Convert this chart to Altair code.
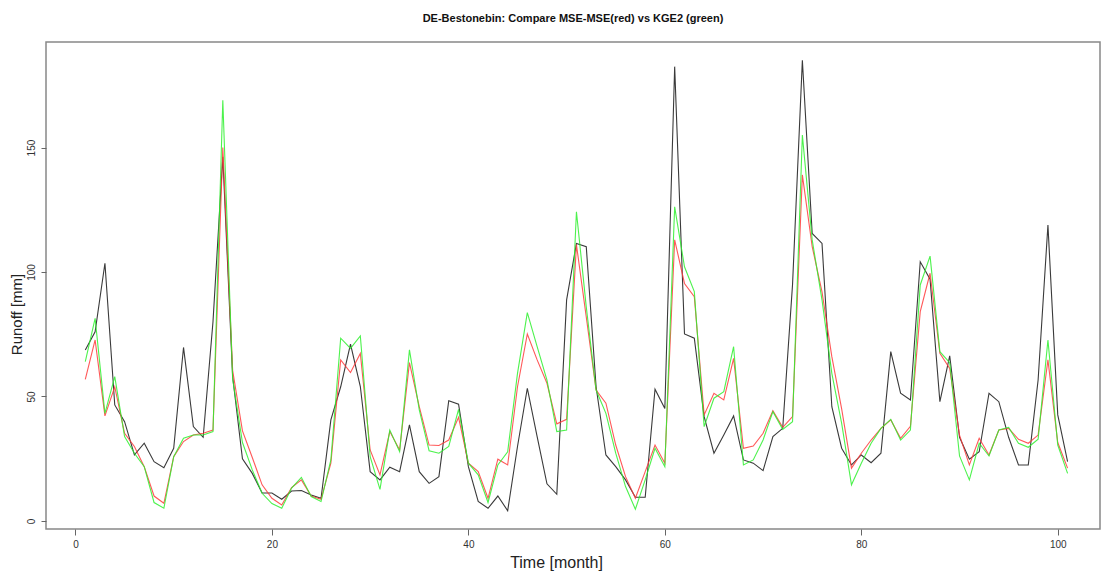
import altair as alt
import pandas as pd

months = list(range(1, 102))

observed = [68.7, 76.0, 103.5, 46.6, 39.9, 26.5, 31.2, 23.8, 21.4, 29.2,
            69.7, 37.9, 33.6, 80.0, 146.3, 58.0, 25.0, 19.1, 11.2, 11.2,
            8.7, 12.0, 12.2, 10.4, 9.1, 40.6, 53.9, 71.0, 54.0, 19.8,
            16.5, 21.6, 19.8, 38.6, 19.8, 15.1, 17.8, 48.3, 46.9, 21.8,
            7.8, 5.1, 10.0, 4.1, 29.9, 53.3, 33.9, 14.9, 10.7, 88.8,
            111.5, 110.2, 53.9, 26.5, 21.8, 16.5, 9.5, 9.5, 52.9, 45.2,
            182.5, 75.1, 73.4, 41.9, 27.2, 34.5, 42.2, 24.5, 23.2, 20.2,
            33.9, 37.2, 95.0, 185.1, 115.5, 111.5, 45.9, 29.2, 22.5, 26.5,
            23.4, 27.2, 68.0, 51.3, 48.6, 104.1, 97.1, 47.9, 66.3, 33.6,
            24.8, 27.8, 51.3, 47.9, 33.6, 22.5, 22.5, 56.6, 118.9, 42.6,
            23.8]

mse_red = [56.9, 72.7, 42.2, 53.9, 35.2, 29.9, 21.8, 10.0, 7.1, 25.8,
           31.9, 34.5, 35.2, 36.5, 150.0, 60.5, 36.2, 25.5, 14.5, 9.1,
           6.4, 13.4, 16.5, 10.0, 8.7, 23.2, 64.7, 59.6, 67.3, 28.5,
           18.5, 35.9, 28.5, 63.6, 45.9, 30.5, 30.3, 32.5, 41.6, 23.2,
           19.8, 9.1, 24.8, 22.5, 53.9, 75.1, 64.7, 55.3, 39.0, 40.8,
           111.0, 82.0, 52.6, 47.3, 30.5, 17.8, 9.1, 19.8, 30.5, 23.2,
           112.9, 95.4, 90.1, 42.6, 51.3, 48.6, 65.3, 29.2, 30.1, 35.2,
           44.3, 37.6, 41.9, 139.0, 110.2, 92.0, 66.0, 45.0, 21.2, 27.2,
           32.5, 37.2, 40.6, 33.2, 38.0, 84.1, 99.5, 67.3, 61.3, 34.5,
           22.5, 33.2, 26.5, 36.5, 37.2, 32.8, 31.2, 34.5, 64.7, 31.5,
           21.2]

kge2_green = [64.0, 81.4, 43.2, 58.0, 33.9, 27.2, 21.8, 7.4, 5.1, 25.8,
              33.2, 34.5, 34.5, 35.9, 169.0, 57.0, 31.5, 20.5, 11.1, 7.0,
              5.1, 13.2, 17.5, 9.8, 7.8, 24.5, 73.4, 69.3, 74.3, 25.8,
              12.7, 36.5, 27.8, 68.7, 44.6, 28.2, 27.2, 29.9, 44.8, 23.2,
              18.5, 7.4, 22.5, 27.8, 59.3, 83.7, 70.0, 56.6, 35.9, 36.5,
              124.2, 86.0, 52.6, 43.2, 27.2, 13.8, 4.7, 16.5, 29.2, 21.8,
              126.2, 102.1, 92.1, 37.9, 49.3, 51.9, 70.0, 22.5, 24.5, 32.5,
              43.9, 36.8, 39.9, 155.0, 112.9, 88.8, 59.3, 39.2, 14.5, 23.2,
              31.2, 37.2, 40.8, 32.5, 36.5, 94.8, 106.4, 68.0, 63.6, 26.1,
              16.5, 31.2, 26.1, 36.5, 37.6, 31.2, 29.6, 32.8, 72.7, 30.5,
              19.1]

x_ticks = [0, 20, 40, 60, 80, 100]
y_ticks = [0, 50, 100, 150]

df = pd.DataFrame({"month": months, "obs": observed, "red": mse_red, "green": kge2_green})

FONT = "Liberation Sans"

xs = alt.Scale(domain=[-3, 104.3], nice=False, zero=False)
ys = alt.Scale(domain=[-3.24, 192.4], nice=False, zero=False)

xax = alt.Axis(values=x_ticks, title="Time [month]", grid=False, domain=False,
               tickSize=6, tickColor="#666", labelFontSize=10, labelColor="#333",
               labelFont=FONT, labelPadding=4, titleFont=FONT, titleFontSize=16,
               titleFontWeight="normal", titleColor="#222", titlePadding=5,
               titleX=510)
yax = alt.Axis(values=y_ticks, title="Runoff [mm]", grid=False, domain=False,
               tickSize=5, tickColor="#666", labelFontSize=10, labelColor="#333",
               labelFont=FONT, labelAngle=270, labelAlign="center",
               labelBaseline="bottom", labelPadding=5, titleFont=FONT,
               titleFontSize=15, titleFontWeight="normal", titleColor="#222",
               titlePadding=2, titleY=272)

base = alt.Chart(df)

black = base.mark_line(color="#3a3a3a", strokeWidth=1.1).encode(
    x=alt.X("month:Q", scale=xs, axis=xax),
    y=alt.Y("obs:Q", scale=ys, axis=yax),
)
red = base.mark_line(color="#ff3b3b", strokeWidth=1.1, opacity=0.85).encode(
    x=alt.X("month:Q", scale=xs),
    y=alt.Y("red:Q", scale=ys),
)
green = base.mark_line(color="#2ef02e", strokeWidth=1.1, opacity=0.85).encode(
    x=alt.X("month:Q", scale=xs),
    y=alt.Y("green:Q", scale=ys),
)

chart = alt.layer(black, red, green).properties(
    width=1054,
    height=487,
    title=alt.TitleParams("DE-Bestonebin: Compare MSE-MSE(red) vs KGE2 (green)",
                          font=FONT, fontSize=11, fontWeight="bold",
                          color="#111", anchor="middle", offset=18),
    autosize=alt.AutoSizeParams(type="none"),
    padding={"left": 46, "top": 42, "right": 2, "bottom": 44},
    background="white",
).configure_view(stroke="#888888", strokeWidth=1.5)

chart.save("out.html", embed_options={"renderer": "svg", "actions": False})
